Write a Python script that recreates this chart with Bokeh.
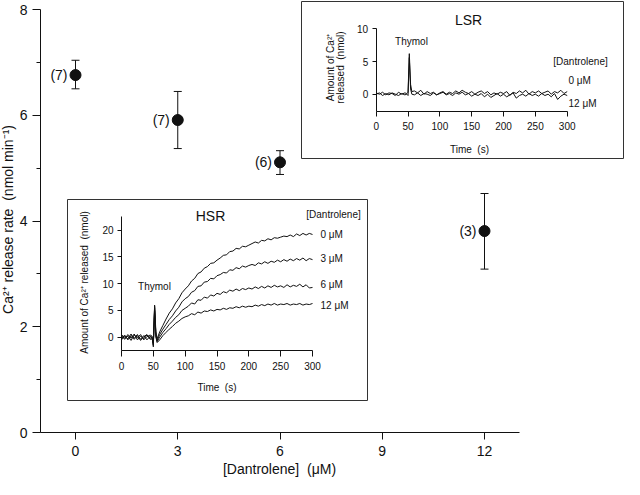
import math
from bokeh.plotting import figure
from bokeh.models import (Range1d, LinearAxis, FixedTicker, Whisker, TeeHead,
                          ColumnDataSource)
from bokeh.core.properties import value
from bokeh.embed import file_html
from bokeh.resources import INLINE

# ---------------- data ----------------
dantrolene = [0, 3, 6, 12]
release_rate = [6.76, 5.91, 5.11, 3.81]
rate_upper = [7.04, 6.45, 5.33, 4.52]
rate_lower = [6.50, 5.37, 4.88, 3.09]
n_labels = ["(7)", "(7)", "(6)", "(3)"]
x_ticks = [0, 3, 6, 9, 12]
y_ticks = [0, 2, 4, 6, 8]
y_minor_ticks = [1, 3, 5, 7]

time_s = list(range(0, 50, 5)) + [48, 50, 52, 54, 56] + list(range(60, 301, 5))
time_ticks = [0, 50, 100, 150, 200, 250, 300]
hsr_ticks = [0, 5, 10, 15, 20]
lsr_ticks = [0, 5, 10]

hsr_0uM = [0.3, -0.4, 0.5, -0.2, 0.6, -0.5, 0.2, -0.3, 0.4, -0.2,
           0.1, -1.5, 6.0, 1.0, -0.3,
           1.0, 2.2, 3.4, 4.5, 5.3, 6.4, 7.2, 8.3, 9.0,
           9.6, 10.5, 11.0, 11.9, 12.2, 12.9, 13.2, 13.8, 13.9, 14.4,
           14.8, 15.3, 15.4, 16.0, 16.1, 16.6, 16.5, 17.0, 16.9, 17.2,
           17.5, 17.8, 17.6, 18.1, 18.0, 18.4, 18.2, 18.6, 18.5, 18.7,
           18.9, 18.8, 19.1, 18.8, 19.3, 19.0, 19.4, 19.1, 19.4, 19.2]
hsr_3uM = [-0.3, 0.4, -0.5, 0.3, -0.2, 0.5, -0.4, 0.3, -0.5, 0.2,
           -0.2, -1.2, 5.5, 0.5, -0.6,
           0.5, 1.5, 2.4, 3.3, 4.0, 4.9, 5.6, 6.6, 7.2,
           7.6, 8.4, 8.7, 9.5, 9.6, 10.3, 10.4, 11.0, 10.9, 11.5,
           11.7, 12.1, 12.0, 12.6, 12.5, 13.0, 12.8, 13.3, 13.1, 13.4,
           13.6, 13.4, 13.9, 13.7, 14.1, 13.8, 14.2, 14.0, 14.4, 14.1,
           14.5, 14.2, 14.6, 14.3, 14.7, 14.4, 14.8, 14.3, 14.7, 14.5]
hsr_6uM = [0.5, -0.2, 0.2, -0.6, 0.4, -0.1, 0.5, -0.5, 0.1, 0.4,
           0.2, -1.8, 5.8, 0.2, -0.8,
           0.0, 0.9, 1.6, 2.4, 3.0, 3.7, 4.2, 5.0, 5.4,
           5.8, 6.4, 6.2, 7.0, 6.9, 7.5, 7.3, 7.9, 7.7, 8.2,
           8.0, 8.5, 8.3, 8.8, 8.6, 9.0, 8.7, 9.1, 8.9, 9.2,
           9.0, 9.4, 9.1, 9.5, 9.2, 9.6, 9.3, 9.7, 9.4, 9.6,
           9.3, 9.8, 9.4, 9.7, 9.5, 9.9, 9.4, 9.8, 9.2, 9.3]
hsr_12uM = [-0.5, 0.2, -0.3, 0.6, -0.4, 0.3, -0.6, 0.1, 0.5, -0.4,
            -0.3, -1.0, 5.0, 0.0, -1.0,
            -0.5, 0.3, 0.9, 1.5, 2.0, 2.6, 3.0, 3.5, 3.8,
            4.0, 4.4, 4.2, 4.7, 4.5, 4.9, 4.8, 5.1, 4.9, 5.2,
            5.1, 5.4, 5.2, 5.5, 5.4, 5.7, 5.5, 5.8, 5.6, 5.8,
            5.7, 6.0, 5.8, 6.1, 5.9, 6.2, 6.0, 6.3, 6.0, 6.2,
            6.1, 6.3, 6.0, 6.2, 6.1, 6.3, 6.0, 6.2, 6.1, 6.3]
lsr_0uM = [0.2, 0.0, 0.3, -0.1, 0.2, 0.1, -0.2, 0.3, 0.0, 0.2,
           0.1, 0.3, 6.2, 1.5, 0.4,
           0.5, 0.2, 0.6, 0.0, 0.4, 0.1, 0.3, -0.1, 0.2, 0.4,
           0.0, 0.3, 0.1, 0.5, 0.2, 0.6, 0.3, 0.1, 0.4, 0.0,
           0.3, 0.5, 0.1, 0.4, -0.1, 0.2, 0.0, 0.3, 0.1, 0.4,
           -0.2, 0.3, 0.1, 0.5, 0.2, 0.6, 0.0, 0.4, 0.2, 0.5,
           0.1, 0.3, 0.5, 0.0, 0.4, 0.2, 0.6, 0.1, 0.4]
lsr_12uM = [0.0, 0.2, -0.2, 0.1, -0.1, 0.2, 0.0, -0.2, 0.1, -0.1,
            0.0, -0.2, 5.6, 0.8, 0.0,
            -0.1, 0.2, -0.2, 0.1, 0.0, -0.2, 0.2, -0.1, 0.1, 0.3,
            -0.1, 0.1, -0.2, 0.2, 0.0, 0.3, -0.1, 0.1, -0.3, 0.0,
            -0.2, 0.1, -0.4, 0.0, -0.5, -0.2, 0.1, -0.3, 0.0, -0.4,
            -0.1, 0.2, -0.6, -0.2, 0.0, -0.3, 0.1, -0.2, 0.0, -0.3,
            0.1, -0.2, 0.0, -0.4, 0.1, -0.8, -0.3, 0.0, -0.2]

# ---------------- layout helpers ----------------
W, H = 624, 479
OX, OY = 8, 8          # page margin: figure origin inside the 640x495 window
FONT = "Liberation Sans"
INK = "#111111"
SP2 = "\u00a0 "        # a visible double space


def lin_map(v0, p0, v1, p1):
    k = (p1 - p0) / (v1 - v0)
    return lambda P: v0 + (P - p0) / k


def xr(m):
    return Range1d(m(OX), m(OX + W))


def yr(m):
    return Range1d(m(OY + H), m(OY))


mx = lin_map(0, 83, 12, 492)       # main x
my = lin_map(0, 440, 8, 17)        # main y
hx = lin_map(0, 129, 300, 320)     # HSR inset
hy = lin_map(0, 344.7, 20, 237.7)
lx = lin_map(0, 383.7, 300, 574.7)  # LSR inset
ly = lin_map(0, 101.7, 10, 36.3)

p = figure(width=W, height=H, x_range=xr(mx), y_range=yr(my),
           x_axis_type=None, y_axis_type=None, toolbar_location=None,
           output_backend="svg", min_border=0)
p.outline_line_color = None
p.background_fill_color = "white"
p.border_fill_color = "white"
p.extra_x_ranges = {"hx": xr(hx), "lx": xr(lx)}
p.extra_y_ranges = {"hy": yr(hy), "ly": yr(ly)}


def make_axis(ticks, minor, bounds, loc, xname=None, yname=None,
              size="14px", tick_out=7, minor_out=0, standoff=5):
    kw = {}
    if xname:
        kw["x_range_name"] = xname
    if yname:
        kw["y_range_name"] = yname
    ax = LinearAxis(ticker=FixedTicker(ticks=ticks, minor_ticks=minor),
                    bounds=bounds, fixed_location=loc, **kw)
    ax.major_tick_in = 0
    ax.major_tick_out = tick_out
    ax.minor_tick_in = 0
    ax.minor_tick_out = minor_out
    ax.major_label_text_font = FONT
    ax.major_label_text_font_size = size
    ax.major_label_text_color = INK
    ax.major_label_standoff = standoff
    ax.axis_line_color = INK
    ax.major_tick_line_color = INK
    ax.minor_tick_line_color = INK
    return ax


def txt(xs, ys, texts, size, xname=None, yname=None, align="center",
        angle=0.0):
    kw = {}
    if xname:
        kw["x_range_name"] = xname
    if yname:
        kw["y_range_name"] = yname
    p.text(x=xs, y=ys, text=texts, angle=angle, text_align=align,
           text_baseline="middle", text_font=value(FONT),
           text_font_size=size, text_color=INK, **kw)


# ---------------- main chart ----------------
p.add_layout(make_axis(x_ticks, [], (mx(48), mx(527)), 0, tick_out=7,
                       standoff=6), "below")
p.add_layout(make_axis(y_ticks, y_minor_ticks, (0, 8), mx(48), tick_out=8,
                       minor_out=4, standoff=5), "left")

src = ColumnDataSource(dict(x=dantrolene, y=release_rate, hi=rate_upper,
                            lo=rate_lower, lab=n_labels))
p.add_layout(Whisker(source=src, base="x", upper="hi", lower="lo",
                     dimension="height", line_color=INK, line_width=1,
                     upper_head=TeeHead(size=8, line_color=INK),
                     lower_head=TeeHead(size=8, line_color=INK)))
p.scatter(x="x", y="y", source=src, size=11, color=INK)
p.text(x="x", y="y", text="lab", source=src, x_offset=-8, text_align="right",
       text_baseline="middle", text_font=value(FONT), text_font_size="14px",
       text_color=INK)

txt([mx(15)], [my(227)],
    ["Ca\u00b2\u207a release rate" + SP2 + "(nmol min\u207b\u00b9)"],
    "14px", angle=math.pi / 2)
txt([mx(287)], [my(476)], ["[Dantrolene]" + SP2 + "(\u03bcM)"], "14px")

# ---------------- HSR inset ----------------
p.quad(left=[mx(75)], right=[mx(375)], top=[my(207)], bottom=[my(408)],
       fill_color="white", line_color="#333333", line_width=1)
for series in (hsr_0uM, hsr_3uM, hsr_6uM, hsr_12uM):
    p.line(time_s, series, x_range_name="hx", y_range_name="hy",
           line_color=INK, line_width=1)
p.add_layout(make_axis(time_ticks, [], (0, 300), hy(358), "hx", "hy",
                       size="10px", tick_out=6, standoff=5), "below")
p.add_layout(make_axis(hsr_ticks, [], (hy(358), hy(224.3)), 0, "hx", "hy",
                       size="10px", tick_out=4, standoff=4), "left")
txt([hx(218)], [hy(223)], ["HSR"], "14px", "hx", "hy")
txt([hx(162)], [hy(294)], ["Thymol"], "10px", "hx", "hy")
txt([hx(341)], [hy(222)], ["[Dantrolene]"], "10px", "hx", "hy")
txt([hx(328)] * 4, [hy(241.7), hy(265.7), hy(291.7), hy(312.7)],
    ["0 \u03bcM", "3 \u03bcM", "6 \u03bcM", "12 \u03bcM"], "10px", "hx", "hy",
    align="left")
txt([hx(224.5)], [hy(395)], ["Time" + SP2 + "(s)"], "10px", "hx", "hy")
txt([hx(92)], [hy(290)],
    ["Amount of Ca\u00b2\u207a released" + SP2 + "(nmol)"], "10px",
    "hx", "hy", angle=math.pi / 2)

# ---------------- LSR inset ----------------
p.quad(left=[mx(309)], right=[mx(631)], top=[my(9)], bottom=[my(166)],
       fill_color="white", line_color="#333333", line_width=1)
for series in (lsr_0uM, lsr_12uM):
    p.line(time_s, series, x_range_name="lx", y_range_name="ly",
           line_color=INK, line_width=1)
p.add_layout(make_axis(time_ticks, [], (0, 300), ly(119), "lx", "ly",
                       size="10px", tick_out=5, standoff=5), "below")
p.add_layout(make_axis(lsr_ticks, [], (ly(119), 10), 0, "lx", "ly",
                       size="10px", tick_out=4, standoff=4), "left")
txt([lx(476)], [ly(27)], ["LSR"], "14px", "lx", "ly")
txt([lx(419)], [ly(49)], ["Thymol"], "10px", "lx", "ly")
txt([lx(588)], [ly(69)], ["[Dantrolene]"], "10px", "lx", "ly")
txt([lx(576)] * 2, [ly(88), ly(111)], ["0 \u03bcM", "12 \u03bcM"], "10px",
    "lx", "ly", align="left")
txt([lx(477)], [ly(157)], ["Time" + SP2 + "(s)"], "10px", "lx", "ly")
txt([lx(338)], [ly(75)], ["Amount of Ca\u00b2\u207a"], "10px", "lx", "ly",
    angle=math.pi / 2)
txt([lx(347.5)], [ly(75)], ["released" + SP2 + "(nmol)"], "10px", "lx", "ly",
    angle=math.pi / 2)

open("out.html", "w").write(file_html(p, INLINE))
